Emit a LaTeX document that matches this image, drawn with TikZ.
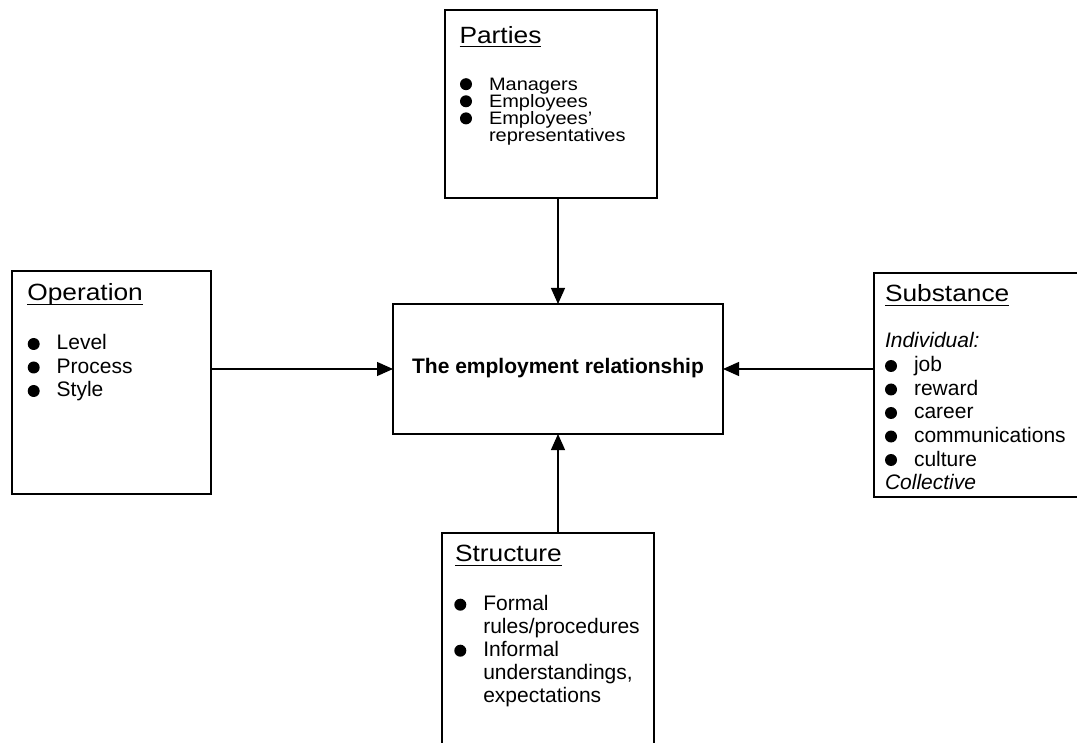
\documentclass[tikz,border=0pt]{standalone}
\usepackage{fontspec}
\setmainfont{Liberation Sans}
\newfontfamily\titlefont{Liberation Sans}[FakeStretch=1.12]
\newfontfamily\partyfont{Liberation Sans}[FakeStretch=1.11]
\usetikzlibrary{arrows.meta}
\newcommand\mybul[1]{\fill ([shift={(-23pt,6pt)}]#1.base west) circle[radius=6pt];}
\newcommand\myul[1]{\draw[line width=1.3pt] ([yshift=-3.5pt]#1.base west) -- ([yshift=-3.5pt]#1.base east);}
\begin{document}
\begin{tikzpicture}[x=1pt,y=-1pt,
  box/.style={draw, line width=1.3pt, inner sep=0pt, outer sep=0pt, anchor=north west},
  txt/.style={inner sep=0pt, outer sep=0pt, anchor=base west, font=\fontsize{21}{23}\selectfont},
  ptxt/.style={txt, font=\partyfont\fontsize{18}{17}\selectfont, text height=12pt, text depth=3pt},
  ttl/.style={inner sep=0pt, outer sep=0pt, anchor=base west, font=\titlefont\fontsize{23.5}{26}\selectfont},
  arr/.style={line width=1.2pt, -{Triangle[length=16pt,width=14pt]}}]
\useasboundingbox (0,0) rectangle (1077,743);
\clip (0,0) rectangle (1077,743);

% boxes
\node[box, minimum width=212pt, minimum height=188pt] (par) at (445,10) {};
\node[box, minimum width=199pt, minimum height=223pt] (op) at (12,271) {};
\node[box, minimum width=230pt, minimum height=224pt] (sub) at (874,273) {};
\node[box, minimum width=212pt, minimum height=230pt] (str) at (442,533) {};
\node[box, minimum width=330pt, minimum height=130pt] (cen) at (393,304) {};

% central text
\node[inner sep=0pt, anchor=base, font=\bfseries\fontsize{21}{24}\selectfont] (centxt) at (558,373.3) {The employment relationship};

% Parties
\node[ttl] (pt) at (459.5,43.3) {Parties};
\myul{pt}
\node[ptxt] (p1) at (489,90.2) {Managers};
\node[ptxt] (p2) at (489,107.3) {Employees};
\node[ptxt] (p3) at (489,124.4) {Employees’};
\node[ptxt] (p4) at (489,141.5) {representatives};
\mybul{p1}\mybul{p2}\mybul{p3}

% Operation
\node[ttl] (ot) at (27.3,300.7) {Operation};
\myul{ot}
\node[txt] (o1) at (56.7,350) {Level};
\node[txt] (o2) at (56.7,373.5) {Process};
\node[txt] (o3) at (56.7,397) {Style};
\mybul{o1}\mybul{o2}\mybul{o3}

% Substance
\node[ttl] (st) at (885,301.7) {Substance};
\myul{st}
\node[txt, font=\itshape\fontsize{21}{23}\selectfont] (s0) at (885,348) {Individual:};
\node[txt] (s1) at (914,372) {job};
\node[txt] (s2) at (914,395.5) {reward};
\node[txt] (s3) at (914,419) {career};
\node[txt] (s4) at (914,442.5) {communications};
\node[txt] (s5) at (914,466) {culture};
\node[txt, font=\itshape\fontsize{21}{23}\selectfont] (s6) at (885,489.5) {Collective};
\mybul{s1}\mybul{s2}\mybul{s3}\mybul{s4}\mybul{s5}

% Structure
\node[ttl] (rt) at (455,561.7) {Structure};
\myul{rt}
\node[txt] (r1) at (483.3,610.7) {Formal};
\node[txt] (r2) at (483.3,633.3) {rules/procedures};
\node[txt] (r3) at (483.3,656.7) {Informal};
\node[txt] (r4) at (483.3,679.3) {understandings,};
\node[txt] (r5) at (483.3,702.7) {expectations};
\mybul{r1}\mybul{r3}

% arrows
\draw[arr] (par.south -| cen.north) -- (cen.north);
\draw[arr] (op.east |- cen.west) -- (cen.west);
\draw[arr] (sub.west |- cen.east) -- (cen.east);
\draw[arr] (str.north -| cen.south) -- (cen.south);
\end{tikzpicture}
\end{document}
